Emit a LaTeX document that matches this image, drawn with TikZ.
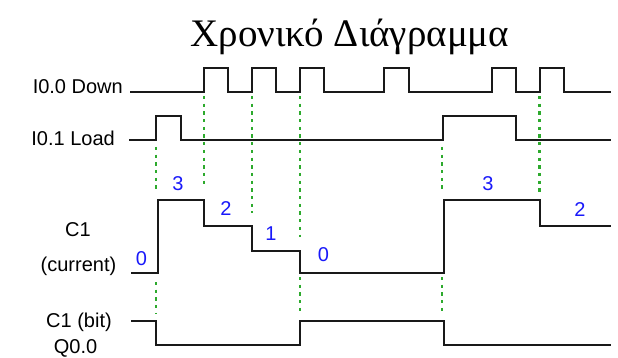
\documentclass[tikz,border=0pt]{standalone}
\usepackage{fontspec}
\setmainfont{Liberation Sans}
\newfontfamily\titlefont{Liberation Serif}
\definecolor{wave}{RGB}{25,25,25}
\definecolor{guidegreen}{RGB}{45,170,45}
\definecolor{countblue}{RGB}{25,25,250}
\begin{document}
\begin{tikzpicture}[x=1pt,y=-1pt,
  signal/.style={draw=wave,line width=2pt,line join=miter},
  guide/.style={draw=guidegreen,line width=2.2pt,dash pattern=on 3.3pt off 4.4pt},
  lbl/.style={inner sep=0pt,font=\fontsize{20}{22}\selectfont},
  count/.style={inner sep=0pt,anchor=base,text=countblue,font=\fontsize{20}{22}\selectfont}]
\useasboundingbox[fill=white] (0,0) rectangle (618,358);

% title
\node[inner sep=0pt,anchor=base,font=\titlefont\fontsize{39}{42}\selectfont] (title) at (350,46.7) {Χρονικό Διάγραμμα};

% signal names
\node[lbl,anchor=base east] (down) at (123,94) {I0.0 Down};
\node[lbl,anchor=base east] (load) at (115,146) {I0.1 Load};
\node[lbl,anchor=base] (cname) at (78,236) {C1};
\node[lbl,anchor=base] (ccur) at (78.5,271) {(current)};
\node[lbl,anchor=base] (cbit) at (79,327) {C1 (bit)};
\node[lbl,anchor=base] (qout) at (75.5,353) {Q0.0};

% green guides at the switching instants
\draw[guide] (156,147) -- (156,189);
\draw[guide] (156,282) -- (156,313);
\draw[guide] (204,96) -- (204,187);
\draw[guide] (252,96) -- (252,212.5);
\draw[guide] (300,96) -- (300,237);
\draw[guide] (300,277) -- (300,313);
\draw[guide] (442,147) -- (442,190);
\draw[guide] (442,277) -- (442,313);
\draw[guide] (539.5,96) -- (539.5,195);

% I0.0 Down
\draw[signal] (130,92) -- (204,92) -- (204,68) -- (228,68) -- (228,92)
  -- (252,92) -- (252,68) -- (276,68) -- (276,92)
  -- (300,92) -- (300,68) -- (324,68) -- (324,92)
  -- (383.5,92) -- (383.5,68) -- (408.5,68) -- (408.5,92)
  -- (491.5,92) -- (491.5,68) -- (516,68) -- (516,92)
  -- (539.5,92) -- (539.5,68) -- (564,68) -- (564,92) -- (611,92);

% I0.1 Load
\draw[signal] (129,140) -- (156,140) -- (156,116.5) -- (180.5,116.5) -- (180.5,140)
  -- (443,140) -- (443,116.5) -- (516,116.5) -- (516,140) -- (611,140);

% C1 current value
\draw[signal] (131,272.5) -- (157.5,272.5) -- (157.5,200) -- (203.5,200) -- (203.5,225.5)
  -- (252,225.5) -- (252,250.5) -- (300,250.5) -- (300,272.5)
  -- (443.5,272.5) -- (443.5,200) -- (539.5,200) -- (539.5,225.5) -- (611,225.5);

% C1 bit / Q0.0
\draw[signal] (131,321) -- (156,321) -- (156,345) -- (300,345) -- (300,321)
  -- (443.5,321) -- (443.5,345) -- (611,345);

% counter values
\node[count] (v0a) at (141.5,265) {0};
\node[count] (v3a) at (178,190.5) {3};
\node[count] (v2a) at (226,215) {2};
\node[count] (v1a) at (271,240) {1};
\node[count] (v0b) at (323.5,261.5) {0};
\node[count] (v3b) at (488,191) {3};
\node[count] (v2b) at (580,216) {2};
\end{tikzpicture}
\end{document}
